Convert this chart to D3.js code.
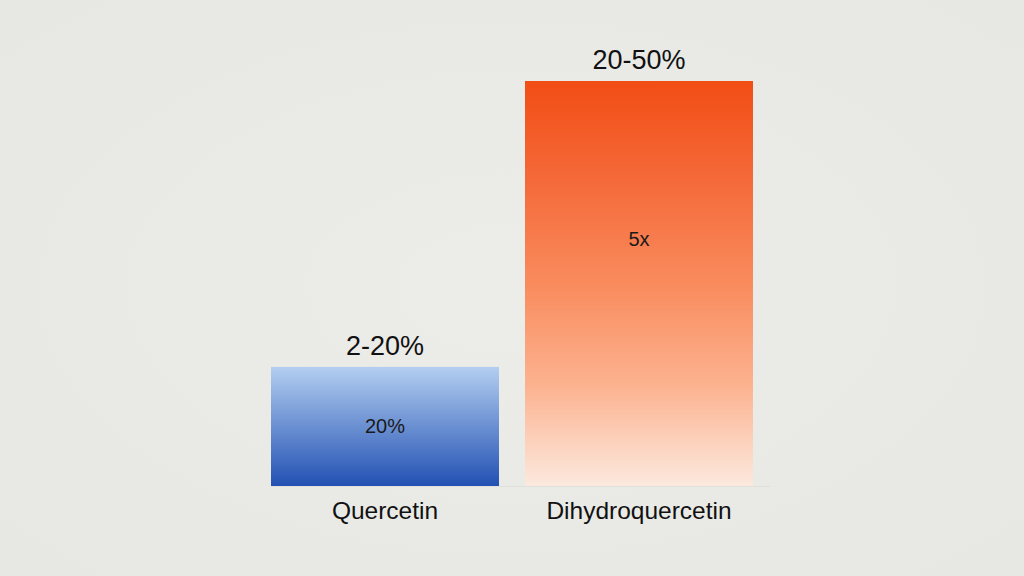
<!DOCTYPE html>
<html>
<head>
<meta charset="utf-8">
<script src="https://cdn.jsdelivr.net/npm/d3@7"></script>
<style>
  html, body { margin: 0; padding: 0; background: #eaeae7; }
  svg { display: block; }
</style>
</head>
<body>
<div id="chart"></div>
<script>
// chart data
const categories = ["Quercetin", "Dihydroquercetin"];
const values = [14.7, 50];              // relative bar heights
const topLabels = ["2-20%", "20-50%"];
const innerLabels = ["20%", "5x"];

const width = 1024, height = 576;
const font = "'Liberation Sans', Arial, sans-serif";

const svg = d3.select("#chart").append("svg")
  .attr("width", width)
  .attr("height", height);

// soft background vignette
const defs = svg.append("defs");
const bg = defs.append("radialGradient").attr("id", "bg")
  .attr("cx", "50%").attr("cy", "50%").attr("r", "70%");
bg.append("stop").attr("offset", "0%").attr("stop-color", "#ecece9");
bg.append("stop").attr("offset", "100%").attr("stop-color", "#e7e7e4");
svg.append("rect").attr("width", width).attr("height", height).attr("fill", "url(#bg)");

const gradients = [
  ["blueGrad", [["0%", "#b3cef0"], ["100%", "#2251b3"]]],
  ["orangeGrad", [["0%", "#f24d15"], ["25%", "#f56a3a"], ["50%", "#f98b5d"],
                  ["75%", "#fcb28f"], ["100%", "#fce9de"]]]
];
gradients.forEach(function(g) {
  const lg = defs.append("linearGradient").attr("id", g[0])
    .attr("x1", 0).attr("y1", 0).attr("x2", 0).attr("y2", 1);
  g[1].forEach(function(s) {
    lg.append("stop").attr("offset", s[0]).attr("stop-color", s[1]);
  });
});

const x = d3.scaleBand()
  .domain(categories)
  .range([271, 753])
  .paddingInner(0.1024)
  .paddingOuter(0);

const y = d3.scaleLinear()
  .domain([0, 50])
  .range([486, 81]);

// faint baseline
svg.append("line")
  .attr("x1", 271).attr("x2", 770)
  .attr("y1", y(0) + 0.5).attr("y2", y(0) + 0.5)
  .attr("stroke", "#e0e0dc").attr("stroke-width", 1);

const bars = svg.selectAll("g.bar")
  .data(categories)
  .join("g")
  .attr("class", "bar");

bars.append("rect")
  .attr("x", d => x(d))
  .attr("y", (d, i) => y(values[i]))
  .attr("width", x.bandwidth())
  .attr("height", (d, i) => y(0) - y(values[i]))
  .attr("fill", (d, i) => "url(#" + gradients[i][0] + ")");

bars.append("text")
  .attr("x", d => x(d) + x.bandwidth() / 2)
  .attr("y", (d, i) => y(values[i]) - 12)
  .attr("text-anchor", "middle")
  .attr("font-family", font)
  .attr("font-size", 27)
  .attr("fill", "#111")
  .text((d, i) => topLabels[i]);

// inner label: centred in short bars, near the upper part of tall ones
bars.append("text")
  .attr("x", d => x(d) + x.bandwidth() / 2)
  .attr("y", (d, i) => Math.min((y(values[i]) + y(0)) / 2, y(values[i]) + 158))
  .attr("dy", "0.35em")
  .attr("text-anchor", "middle")
  .attr("font-family", font)
  .attr("font-size", 20)
  .attr("fill", "#1a1a1a")
  .text((d, i) => innerLabels[i]);

bars.append("text")
  .attr("x", d => x(d) + x.bandwidth() / 2)
  .attr("y", y(0) + 33)
  .attr("text-anchor", "middle")
  .attr("font-family", font)
  .attr("font-size", 24.5)
  .attr("fill", "#111")
  .text(d => d);
</script>
</body>
</html>
